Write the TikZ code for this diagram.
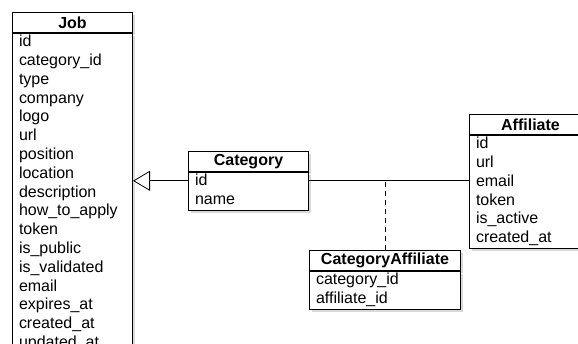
\documentclass[tikz,border=0pt]{standalone}
\usepackage{fontspec}
\setmainfont{Liberation Sans}
\usetikzlibrary{positioning}
\usetikzlibrary{arrows.meta}
\usetikzlibrary{shadows}

\begin{document}
\begin{tikzpicture}
    [
    x=1pt, y=-1pt,
    tablehead/.style={draw, fill=white, line width=1pt, anchor=north west, inner sep=0pt,
      minimum height=20pt, font=\fontsize{16}{18.8}\selectfont\bfseries,
      drop shadow={opacity=0.3, shadow xshift=2pt, shadow yshift=-3pt}},
    tablebody/.style={draw, fill=white, line width=1pt, inner xsep=6.5pt, inner ysep=0pt,
      align=left, font=\fontsize{16}{18.8}\selectfont,
      execute at begin node=\strut, execute at end node=\strut,
      drop shadow={opacity=0.3, shadow xshift=2pt, shadow yshift=-3pt}},
    link/.style={line width=0.8pt}
    ]
    \useasboundingbox (0,0) rectangle (578,344);
    \clip (0,0) rectangle (578,344);

    \node (jobh) at (12,12) [tablehead, minimum width=120pt] {Job};
    \node (jobb) [tablebody, text width=107pt, below=0pt of jobh]
      {id\\category\_id\\type\\company\\logo\\url\\position\\location\\description\\
       how\_to\_apply\\token\\is\_public\\is\_validated\\email\\expires\_at\\created\_at\\updated\_at};

    \node (cath) at (188,151) [tablehead, minimum width=120pt] {Category};
    \node (catb) [tablebody, text width=107pt, below=0pt of cath] {id\\name};

    \node (affh) at (469,114) [tablehead, minimum width=122pt] {Affiliate};
    \node (affb) [tablebody, text width=109pt, below=0pt of affh]
      {id\\url\\email\\token\\is\_active\\created\_at};

    \node (cah) at (309,250) [tablehead, minimum width=151pt] {CategoryAffiliate};
    \node (cab) [tablebody, text width=138pt, below=0pt of cah] {category\_id\\affiliate\_id};

    \coordinate (catlink) at ([yshift=10.5pt]catb.west);
    \coordinate (afflink) at ([yshift=10.5pt]catb.east);
    \draw [link, -{Triangle[open,length=17pt,width=20pt]}] (catlink) to (catlink -| jobb.east);
    \draw [link] (afflink) to (afflink -| affb.west);
    \draw [link, dash pattern=on 5pt off 4pt] (cah.north) to (cah.north |- afflink);
  \end{tikzpicture}
\end{document}
